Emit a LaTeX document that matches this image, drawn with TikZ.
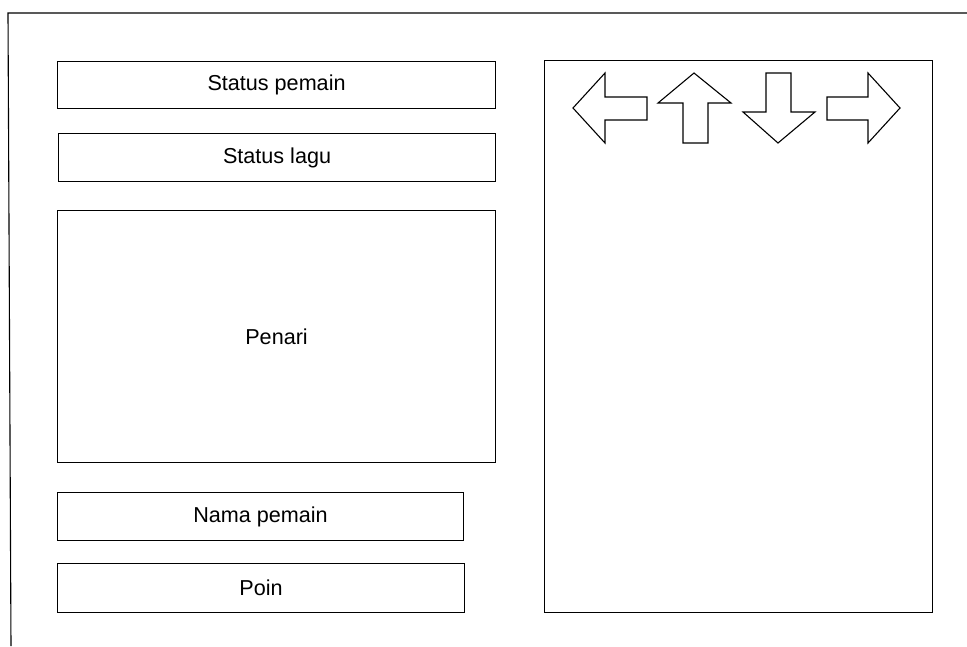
\documentclass[tikz,border=0pt]{standalone}
\usepackage{fontspec}
\setmainfont{Liberation Sans}
\begin{document}
\begin{tikzpicture}[x=1pt,y=-1pt,
  line/.style={draw=black,line width=1.1pt},
  panel/.style={line,rectangle,inner sep=0pt,anchor=north west,font=\fontsize{21.6}{24}\selectfont},
  keyarrow/.style={line,line join=miter}]
\useasboundingbox (0,0) rectangle (967,646);
% outer frame (top and left edges visible)
\draw[line] (967,13) -- (8,13) -- (11,646);
% left column
\node[panel,minimum width=438pt,minimum height=47pt] (status) at (57,61) {Status pemain};
\node[panel,minimum width=437pt,minimum height=48pt] (lagu) at (58,133) {Status lagu};
\node[panel,minimum width=438pt,minimum height=252pt] (penari) at (57,210) {Penari};
\node[panel,minimum width=406pt,minimum height=48pt] (nama) at (57,492) {Nama pemain};
\node[panel,minimum width=407pt,minimum height=49pt] (poin) at (57,563) {Poin};
% right panel
\node[panel,minimum width=388pt,minimum height=552pt] (arena) at (544,60) {};
% arrows
\draw[keyarrow] (573,108) -- (605,73) -- (605,97) -- (647,97) -- (647,120) -- (605,120) -- (605,143) -- cycle;
\draw[keyarrow] (694,73) -- (731,103) -- (708,103) -- (708,143) -- (683,143) -- (683,103) -- (658,103) -- cycle;
\draw[keyarrow] (778,143) -- (815,112) -- (791,112) -- (791,73) -- (766,73) -- (766,112) -- (743,112) -- cycle;
\draw[keyarrow] (900,108) -- (868,73) -- (868,97) -- (827,97) -- (827,120) -- (868,120) -- (868,143) -- cycle;
\end{tikzpicture}
\end{document}
